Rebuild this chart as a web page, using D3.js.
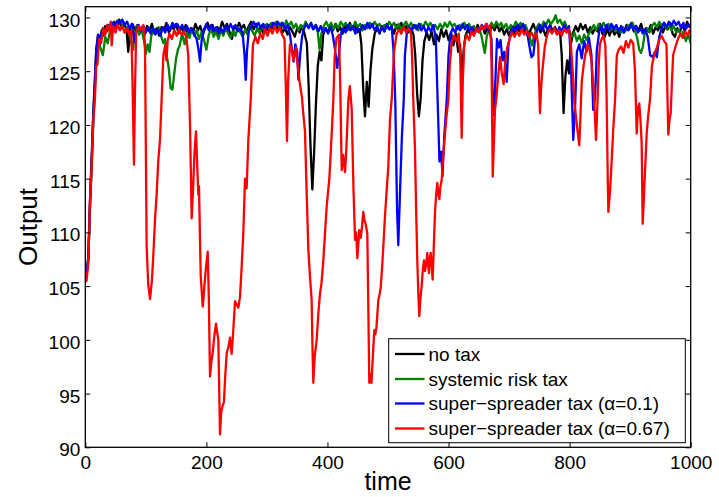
<!DOCTYPE html>
<html>
<head>
<meta charset="utf-8">
<script src="https://cdn.jsdelivr.net/npm/d3@7"></script>
<style>
  html, body { margin: 0; padding: 0; background: #fff; }
  svg { display: block; font-family: "Liberation Sans", Arial, Helvetica, sans-serif; }
</style>
</head>
<body>
<svg id="chart" width="719" height="497"></svg>
<script>
// Simulated aggregate output over time under four tax regimes
const seriesNames = [
  "no tax",
  "systemic risk tax",
  "super\u2212spreader tax (\u03b1=0.1)",
  "super\u2212spreader tax (\u03b1=0.67)"
];
const seriesColors = ["#000000", "#008000", "#0000ff", "#ff0000"];

const xTicks = [0, 200, 400, 600, 800, 1000];
const yTicks = [90, 95, 100, 105, 110, 115, 120, 125, 130];

// [time, output]
const noTax = [[0,105.5],[2,106],[5,107.8],[8,113.5],[10.5,117],[13,121],[16,124.5],[18,127],[21,128.3],[24,127.4],[27,128.8],[30,128.3],[33,129.2],[36,128.7],[40,129.3],[44,129.0],[48,129.6],[52,129.2],[56,129.8],[60,129.1],[64,129.5],[68,128.9],[71,126.8],[74,129.0],[78,129.4],[82,128.8],[86,129.3],[90,128.6],[94,129.1],[98,128.4],[102,129.2],[106,128.7],[110,129.4],[114,128.5],[118,129.0],[122,128.3],[126,129.1],[130,128.8],[134,129.5],[138,128.6],[142,129.2],[146,128.9],[150,129.4],[154,128.5],[158,129.1],[162,128.7],[166,129.3],[170,128.2],[174,129.0],[178,128.6],[182,129.4],[186,128.8],[190,129.2],[194,128.4],[198,129.0],[202,129.5],[206,128.9],[210,129.3],[214,128.6],[218,129.1],[222,128.8],[226,129.6],[230,129.0],[234,129.4],[238,128.7],[242,128.0],[246,129.2],[250,128.9],[254,129.5],[258,129.0],[262,129.3],[266,128.6],[270,129.2],[274,129.6],[278,128.9],[282,129.4],[286,128.7],[290,129.1],[294,128.5],[298,129.3],[302,128.8],[306,129.4],[310,129.0],[314,129.5],[318,128.9],[322,129.2],[326,128.6],[330,129.0],[334,128.4],[338,129.1],[342,128.7],[346,128.2],[350,129.0],[354,128.6],[358,129.2],[362,128.5],[366,127.6],[369,123.5],[372,118],[375,114.0],[378,117.5],[381,122],[384,125.5],[387,126.8],[390,126.0],[393,128.4],[397,129.0],[401,128.6],[405,129.3],[409,128.8],[413,129.4],[417,128.7],[421,129.1],[425,128.5],[429,129.2],[433,128.8],[437,129.5],[441,128.9],[445,129.3],[449,128.6],[453,128.9],[456,127.5],[459,123.5],[462,120.8],[465,124.0],[468,121.7],[471,125.0],[474,127.0],[478,128.5],[482,129.0],[486,128.5],[490,129.2],[494,128.7],[498,129.4],[502,128.9],[506,129.1],[510,128.5],[514,129.3],[518,128.8],[522,129.5],[526,128.9],[530,129.2],[534,128.6],[538,129.0],[542,128.4],[545,126.5],[548,123],[551,120.8],[554,122.5],[557,126.0],[560,127.8],[564,128.6],[568,127.9],[572,128.7],[576,127.5],[580,128.4],[584,127.8],[588,128.9],[592,128.2],[596,128.8],[600,127.9],[604,128.6],[608,127.4],[612,128.5],[616,126.8],[619,127.5],[622,124.2],[625,127.0],[628,128.3],[632,128.9],[636,128.4],[640,129.1],[644,128.6],[648,129.3],[652,128.8],[656,129.2],[660,128.5],[664,129.0],[668,128.6],[672,129.3],[676,128.8],[680,129.4],[684,128.7],[688,129.1],[692,128.4],[696,128.9],[700,128.3],[704,129.0],[708,128.5],[712,129.2],[716,128.7],[720,129.3],[724,128.6],[728,129.0],[732,128.4],[736,128.9],[740,129.4],[744,128.8],[748,129.2],[752,128.6],[756,129.0],[760,128.3],[764,128.9],[768,129.3],[772,128.7],[776,129.1],[780,128.5],[784,128.8],[787,126.5],[790,121.1],[793,124.5],[796,126.0],[799,124.8],[802,127.5],[806,128.6],[810,129.2],[814,128.7],[818,129.4],[822,128.9],[826,129.3],[830,128.6],[834,129.1],[838,128.5],[842,129.0],[846,128.7],[850,129.4],[854,128.5],[858,128.2],[862,128.9],[866,128.3],[870,129.0],[874,128.4],[878,128.8],[882,128.2],[886,129.1],[890,128.6],[894,129.3],[898,128.9],[902,129.5],[906,128.7],[910,129.2],[914,128.8],[918,129.4],[922,128.6],[926,129.0],[930,128.7],[934,129.3],[938,128.5],[942,129.1],[946,128.8],[950,129.4],[954,128.6],[958,129.2],[962,128.9],[966,129.5],[970,128.5],[974,128.2],[978,129.0],[982,128.6],[986,129.3],[990,128.8],[994,129.6],[998,129.1],[1000,129.3]];

const systemicTax = [[0,105.5],[2,106],[5,107.5],[8,112.5],[10.5,116],[13,120],[16,123.5],[18,126],[21,128],[25,127.2],[29,126.5],[33,128.2],[37,127.6],[41,128.8],[45,129.2],[49,128.7],[53,129.4],[57,128.9],[61,129.3],[65,128.6],[69,129.1],[73,128.5],[76,127.6],[79,127.0],[82,128.7],[85,129.2],[89,128.4],[93,128.9],[97,127.8],[100,126.6],[103,127.5],[106,126.8],[109,128.3],[113,128.9],[117,128.5],[121,129.1],[125,128.3],[129,127.6],[132,128.0],[135,126.3],[138,125.2],[141,123.4],[144,123.3],[147,124.8],[150,126.2],[153,127.0],[156,127.4],[160,128.5],[164,127.5],[168,128.6],[172,128.1],[176,128.9],[180,128.3],[184,128.8],[188,128.0],[192,128.6],[196,127.9],[200,127.0],[204,128.4],[208,128.9],[212,128.2],[216,128.7],[220,128.0],[224,128.8],[228,128.3],[232,129.0],[236,128.5],[240,128.1],[244,128.8],[248,128.3],[252,129.1],[256,128.6],[260,128.2],[264,128.9],[268,128.4],[272,129.2],[276,128.7],[280,128.3],[284,129.0],[288,128.5],[292,129.3],[296,128.8],[300,129.4],[304,128.9],[308,129.5],[312,129.0],[316,129.6],[320,129.1],[324,129.5],[328,129.0],[332,129.7],[336,129.2],[340,129.6],[344,129.0],[348,129.4],[352,128.8],[356,129.3],[360,129.0],[364,129.6],[368,129.1],[372,129.4],[376,128.9],[380,129.3],[384,128.6],[387,127.0],[390,128.5],[394,129.2],[398,129.6],[402,129.1],[406,129.5],[410,128.9],[414,129.4],[418,129.0],[422,129.6],[426,129.2],[430,129.5],[434,128.9],[438,129.3],[442,129.0],[446,129.6],[450,129.1],[454,129.4],[458,128.8],[462,129.3],[466,129.0],[470,129.5],[474,129.1],[478,129.6],[482,129.2],[486,129.4],[490,128.9],[494,129.3],[498,129.0],[502,129.6],[506,129.2],[510,129.5],[514,129.0],[518,129.4],[522,128.8],[526,129.3],[530,129.6],[534,129.1],[538,129.5],[542,129.0],[546,129.3],[550,128.8],[554,129.4],[558,129.1],[562,129.6],[566,129.2],[570,129.5],[574,129.0],[578,129.3],[582,128.9],[586,129.4],[590,129.0],[594,129.5],[598,129.1],[602,129.6],[606,129.2],[610,129.4],[614,128.9],[618,129.3],[622,129.0],[626,129.5],[630,129.1],[634,129.4],[638,128.8],[642,129.2],[646,128.7],[650,129.0],[654,128.4],[657,127.5],[660,126.7],[663,128.2],[667,129.0],[671,129.5],[675,129.1],[679,129.6],[683,129.2],[687,129.5],[691,129.0],[695,129.4],[699,128.9],[703,129.3],[707,129.0],[711,129.6],[715,129.2],[719,129.5],[723,128.9],[727,129.3],[731,128.7],[735,128.0],[738,127.4],[741,128.2],[745,128.9],[749,129.4],[753,129.0],[757,129.6],[761,129.3],[765,129.8],[769,129.4],[773,129.7],[777,130.2],[780,129.5],[784,129.8],[788,129.3],[792,129.6],[796,129.0],[800,128.7],[804,128.2],[808,128.6],[812,127.8],[816,128.3],[820,127.6],[824,128.4],[828,127.9],[832,128.5],[836,128.9],[840,129.3],[844,128.8],[848,129.4],[852,129.0],[856,129.5],[860,129.1],[864,129.4],[868,128.8],[872,129.2],[876,128.7],[880,129.0],[884,128.6],[888,129.1],[892,128.7],[896,129.3],[900,129.0],[904,129.5],[908,128.8],[912,128.0],[915,127.0],[918,126.7],[921,127.3],[924,128.5],[928,129.0],[932,128.6],[936,129.2],[940,129.5],[944,129.1],[948,129.6],[952,129.2],[956,129.5],[960,128.9],[964,129.3],[968,128.8],[972,129.2],[976,128.6],[980,128.9],[984,128.3],[988,128.7],[992,127.8],[996,128.4],[1000,127.6]];

const spreaderTaxLow = [[0,105.5],[2,106],[5,107.6],[8,113],[10.5,116.5],[13,120.5],[16,124],[18,126.8],[21,128.4],[25,128.2],[29,129.0],[33,128.6],[37,129.3],[41,129.0],[45,129.5],[49,129.2],[53,129.7],[57,129.4],[61,129.8],[65,129.3],[69,129.6],[73,129.0],[77,129.4],[81,127.7],[84,128.8],[88,129.3],[92,128.7],[96,129.2],[100,128.6],[104,129.1],[108,128.5],[112,129.0],[116,128.4],[120,128.9],[124,128.3],[128,129.1],[132,128.6],[136,129.3],[140,128.8],[144,129.5],[148,129.1],[152,129.4],[156,128.9],[160,129.3],[164,128.7],[168,129.2],[172,128.6],[176,129.0],[180,128.4],[184,128.0],[187,127.0],[189.5,125.9],[192,127.8],[196,128.9],[200,129.4],[204,128.8],[208,129.3],[212,128.7],[216,129.1],[220,128.5],[224,129.0],[228,128.6],[232,129.2],[236,128.8],[240,129.4],[244,128.9],[248,129.3],[252,128.7],[256,129.0],[260,128.5],[263,126.5],[265,124.2],[267,126.8],[270,128.7],[274,129.2],[278,129.6],[282,129.1],[286,129.5],[290,129.0],[294,129.4],[298,128.8],[302,129.3],[306,128.9],[310,129.5],[314,129.1],[318,129.6],[322,129.2],[326,129.5],[330,128.9],[334,129.3],[338,128.4],[341,127.2],[344,125.9],[347,127.5],[350,126.8],[352,124.2],[355,126.6],[358,128.2],[361,128.9],[365,129.4],[369,129.0],[373,129.5],[377,128.9],[381,129.3],[385,128.7],[389,129.2],[393,128.6],[397,129.0],[401,128.5],[405,129.1],[409,128.3],[413,126.8],[416,125.3],[419,126.5],[422,128.4],[426,129.0],[430,128.6],[434,129.3],[438,128.8],[442,129.2],[446,128.5],[450,129.0],[454,128.7],[458,129.3],[462,128.9],[466,129.5],[470,129.0],[474,129.4],[478,128.8],[482,129.2],[486,128.6],[490,129.1],[494,128.7],[498,129.3],[502,128.9],[506,129.2],[509,127.0],[512,122.3],[515,112],[517,108.8],[520,114],[523,119],[526,122.3],[528,126.5],[531,128.5],[535,129.1],[539,128.7],[543,129.3],[547,128.9],[551,129.4],[555,128.8],[559,129.2],[563,128.6],[567,129.1],[571,128.7],[575,129.3],[579,128.0],[582,122.3],[585,116.6],[588,117.5],[590,115.2],[593,119],[597,122.3],[600,126.5],[603,128.4],[607,129.0],[611,128.6],[615,129.2],[619,128.8],[623,129.4],[627,128.9],[631,129.3],[635,128.7],[639,129.1],[643,128.5],[647,129.0],[651,128.7],[655,129.3],[659,128.9],[663,129.4],[667,128.8],[671,128.0],[673,122.3],[675,120.9],[677,123.5],[680,128.0],[683,127.2],[686,127.9],[689,126.0],[692,126.8],[696,124.0],[699,127.5],[703,128.6],[707,129.1],[711,128.7],[715,129.3],[719,128.8],[723,129.4],[727,128.9],[731,128.2],[734,127.2],[737,126.3],[740,126.5],[743,128.0],[747,128.9],[751,129.3],[755,128.8],[759,129.4],[763,128.9],[767,129.2],[771,128.6],[775,129.0],[779,128.5],[783,129.1],[787,128.7],[791,129.3],[795,128.8],[799,129.2],[802,126.0],[806,118.6],[809,121.5],[812,126.8],[816,127.5],[820,126.2],[824,127.8],[828,126.8],[832,128.1],[836,126.5],[839,121.4],[842,122.5],[845,127.0],[849,128.7],[853,129.2],[857,128.6],[861,129.3],[865,128.8],[869,129.4],[873,128.9],[877,129.3],[881,128.7],[885,129.2],[889,128.6],[893,129.1],[897,128.8],[901,129.4],[905,128.9],[909,129.2],[913,128.6],[917,129.0],[921,128.5],[925,128.9],[929,128.2],[933,126.5],[937,126.3],[941,126.8],[944,126.3],[948,128.2],[952,129.0],[956,129.5],[960,129.1],[964,129.6],[968,129.2],[972,129.7],[976,129.3],[980,129.6],[984,129.0],[988,129.5],[992,128.9],[996,129.4],[1000,129.1]];

const spreaderTaxHigh = [[0,105.4],[2,105.5],[5,107.1],[7.8,113],[10.5,116.1],[13.3,120.5],[16,122.5],[18,125.5],[20,125.6],[23,128.0],[26,127.6],[30,129.0],[33,128.4],[36,129.3],[40,128.8],[42,129.6],[43.6,127.4],[46,129.2],[50,128.6],[53,129.3],[57,128.8],[61,129.2],[65,128.6],[69,129.0],[73,128.4],[76,128.8],[78,124],[80.4,116.3],[82,123],[84,128.6],[88,129.2],[92,128.8],[96,129.3],[98.6,127.5],[100,118],[101.3,108.7],[104,105.1],[107,103.8],[110,105.5],[112.3,107.8],[115,111],[117.9,113.6],[120.6,116.7],[123.4,118.6],[126,122.3],[129,126.5],[132,127.4],[134,126.0],[136,127.8],[139,128.5],[143,128.0],[147,128.8],[151,128.3],[155,128.9],[159,128.4],[163,128.7],[167,128.1],[170,126.5],[173,120],[175.7,111.3],[178,114],[180,117],[182.8,119.4],[185,116],[186.7,113.5],[187.8,114.3],[190.6,106.0],[193.9,103.1],[195.5,104.1],[197,105.2],[199.4,106.8],[202.2,108.2],[204,104],[206,96.6],[208,97.8],[210.4,98.8],[213,100.3],[215.9,101.5],[217.5,100.8],[219.7,100.0],[221,96],[222.5,91.2],[224.5,93.3],[226.9,93.9],[229,94.2],[231,96.5],[233.6,98.8],[236,99.2],[239,100.2],[241.7,98.7],[244,100.5],[247.3,103.6],[250,103.3],[252.8,103.0],[255.5,104.0],[258,106.5],[261,109.9],[263.8,115.0],[266.5,114.1],[269.3,118.6],[273.2,122.3],[277,127.5],[281,128.2],[285,127.6],[289,128.5],[293,128.0],[297,128.9],[301,128.3],[305,129.0],[309,128.5],[313,129.2],[317,128.6],[321,129.1],[325,128.4],[329,128.0],[331,124],[333.2,118.5],[335,124],[338,127.5],[341,127.0],[344,126.0],[348,127.2],[351,125.5],[354,124.0],[358,122.5],[360,121.1],[362.9,119.4],[365.5,114],[368.4,108.4],[371,106],[373.9,103.7],[375,100],[376.6,96.0],[379,98.5],[382.2,100.0],[385,102.5],[387.7,104.3],[390,105.2],[393.2,107.4],[396,110],[398.7,112.4],[401,113.8],[403,114.9],[405,117],[407,119.2],[409.7,122.3],[412,126.5],[415,128.1],[419,128.4],[421,124],[423.5,115.8],[426,117.2],[429,115.6],[431,117.5],[434.5,122.3],[437,123.6],[440,121.5],[443,114],[445.6,109.3],[447.5,110],[449.4,107.6],[452.6,110.2],[455,109.5],[457,110.5],[459.2,111.9],[461,111.2],[463,110.8],[465.8,109.9],[467.5,103],[469.1,96.0],[471.4,96.8],[472.7,96.0],[475,98.5],[477.4,100.9],[479,100.5],[481,101.2],[484,103.7],[486,104.2],[488,104.9],[490,106.5],[492.3,108.7],[495,111.5],[497.8,113.9],[500.5,116.1],[503.3,120.5],[506,122.3],[510,126.8],[514,128.4],[518,128.9],[522,128.5],[526,129.1],[530,128.6],[534,129.0],[538,128.5],[540,126],[541.8,122.3],[544.6,117.7],[546.5,112],[548.4,107.4],[550,104.5],[551.7,102.2],[553.5,103.8],[555.6,105.0],[557.5,106.5],[559.5,107.4],[561,106.4],[562.2,106.8],[563.5,107.2],[565,108.1],[566.5,106.9],[567.7,106.2],[569,107.5],[570.5,108.1],[572,107],[573.8,105.6],[575.5,108.5],[577.6,111.8],[579.5,113.5],[581.5,114.6],[583,113.6],[584.8,113.1],[586.5,114.2],[588.7,114.9],[591,117],[594.2,119.2],[597,121],[599.7,122.3],[602,125.5],[605,127.6],[609,128.3],[613,127.8],[617,128.5],[619.5,126],[621.7,118.8],[623.5,124],[626,127.6],[630,128.4],[634,127.9],[638,128.7],[642,128.3],[646,129.0],[650,128.6],[654,129.2],[658,128.9],[662,129.4],[666,129.0],[669,129.3],[671,126],[673,115.2],[675,118.5],[676.7,121.4],[679,122.5],[682,124.5],[685,126.3],[688,124.8],[691,123.8],[694,126.0],[697,127.2],[701,128.0],[705,128.6],[709,128.2],[713,128.7],[717,128.3],[721,128.9],[725,128.4],[729,128.8],[733,128.2],[737,128.6],[741,128.1],[745,128.5],[748,127.5],[751,121.1],[753,123.5],[755,125.0],[759,127.3],[763,128.4],[767,128.9],[771,128.5],[775,129.0],[779,128.4],[783,128.8],[787,128.3],[791,128.9],[795,128.6],[799,128.9],[802,127.5],[805,125],[808,122],[810,121.0],[813,119.5],[816,118.1],[818,121],[820,124],[823,125.5],[826,126.6],[830,127.5],[833,127],[836,126.0],[840,123],[843.6,118.6],[846,122],[848,125.5],[850,127.5],[853,128.0],[856,128.3],[859,127.4],[861,123],[863,115],[864,111.9],[867,114],[869.5,116.7],[872,119.5],[875,122.3],[878,126.5],[881,127.0],[885,127.3],[889,126.7],[893,127.8],[897,127.2],[901,127.9],[905,127.6],[908,125],[910.8,119.2],[913,121.5],[915,122.0],[917,120.5],[919,118.3],[920.7,110.8],[922.5,113],[924,115],[926,117.5],[927.3,119.2],[930,121],[932.7,122.3],[936,125.5],[940,126.6],[944,127.2],[948,127.9],[952,128.3],[956,127.8],[960,127.5],[961.5,123],[963,119.1],[965,120.5],[967,121.1],[969,124],[971,126.5],[975,127.3],[979,128.0],[983,128.5],[987,128.1],[991,128.7],[995,128.3],[998,128.8],[1000,128.5]];

const allSeries = [noTax, systemicTax, spreaderTaxLow, spreaderTaxHigh];

// Layout
const svg = d3.select("#chart");
const plot = { left: 85.3, right: 690.7, top: 6.7, bottom: 447.3 };
const fontFamily = '"Liberation Sans", Arial, Helvetica, sans-serif';

const x = d3.scaleLinear().domain([0, 1000]).range([plot.left, plot.right]);
const y = d3.scaleLinear().domain([90, 131]).range([plot.bottom, plot.top]);

svg.append("rect").attr("width", 719).attr("height", 497).attr("fill", "#fff");

svg.append("defs").append("clipPath").attr("id", "plot-clip")
  .append("rect")
  .attr("x", plot.left).attr("y", plot.top)
  .attr("width", plot.right - plot.left).attr("height", plot.bottom - plot.top);

// Series lines
const line = d3.line().x(d => x(d[0])).y(d => y(d[1]));
const linesG = svg.append("g").attr("clip-path", "url(#plot-clip)");
allSeries.forEach((s, i) => {
  linesG.append("path")
    .datum(s)
    .attr("d", line)
    .attr("fill", "none")
    .attr("stroke", seriesColors[i])
    .attr("stroke-width", 2.3)
    .attr("stroke-linejoin", "round");
});

// Axes (ticks point inward, box closed on all sides)
const tickLen = 5;
const styleAxis = g => {
  g.select(".domain").remove();
  g.selectAll(".tick line").attr("stroke", "#000").attr("stroke-width", 1);
  g.selectAll(".tick text").attr("fill", "#000")
    .style("font-family", fontFamily).style("font-size", "19px");
};

svg.append("g")
  .attr("transform", `translate(0,${plot.bottom})`)
  .call(d3.axisBottom(x).tickValues(xTicks).tickSize(-tickLen).tickPadding(8).tickFormat(d3.format("d")))
  .call(styleAxis);

svg.append("g")
  .attr("transform", `translate(0,${plot.top})`)
  .call(d3.axisTop(x).tickValues(xTicks).tickSize(-tickLen).tickFormat(""))
  .call(styleAxis);

svg.append("g")
  .attr("transform", `translate(${plot.left},0)`)
  .call(d3.axisLeft(y).tickValues(yTicks).tickSize(-tickLen).tickPadding(5).tickFormat(d3.format("d")))
  .call(styleAxis)
  .call(g => g.selectAll(".tick text").attr("dy", "0.45em"));

svg.append("g")
  .attr("transform", `translate(${plot.right},0)`)
  .call(d3.axisRight(y).tickValues(yTicks).tickSize(-tickLen).tickFormat(""))
  .call(styleAxis);

svg.append("rect")
  .attr("x", plot.left).attr("y", plot.top)
  .attr("width", plot.right - plot.left).attr("height", plot.bottom - plot.top)
  .attr("fill", "none").attr("stroke", "#000").attr("stroke-width", 1.3);

// Axis titles
svg.append("text")
  .attr("x", (plot.left + plot.right) / 2).attr("y", 490)
  .attr("text-anchor", "middle")
  .style("font-family", fontFamily).style("font-size", "25px")
  .text("time");

svg.append("text")
  .attr("transform", `translate(37,${(plot.top + plot.bottom) / 2}) rotate(-90)`)
  .attr("text-anchor", "middle")
  .style("font-family", fontFamily).style("font-size", "26px")
  .text("Output");

// Legend
const legend = { x: 388.7, y: 338.7, w: 296.6, h: 104, rows: [354, 379, 403.5, 428.5] };
const legendG = svg.append("g");
legendG.append("rect")
  .attr("x", legend.x).attr("y", legend.y)
  .attr("width", legend.w).attr("height", legend.h)
  .attr("fill", "#fff").attr("stroke", "#000").attr("stroke-width", 1);

seriesNames.forEach((name, i) => {
  const ry = legend.rows[i];
  legendG.append("line")
    .attr("x1", 395).attr("x2", 424.5).attr("y1", ry).attr("y2", ry)
    .attr("stroke", seriesColors[i]).attr("stroke-width", 2.3);
  legendG.append("text")
    .attr("x", 428.5).attr("y", ry).attr("dy", "0.36em")
    .style("font-family", fontFamily).style("font-size", "19px")
    .text(name);
});
</script>
</body>
</html>
